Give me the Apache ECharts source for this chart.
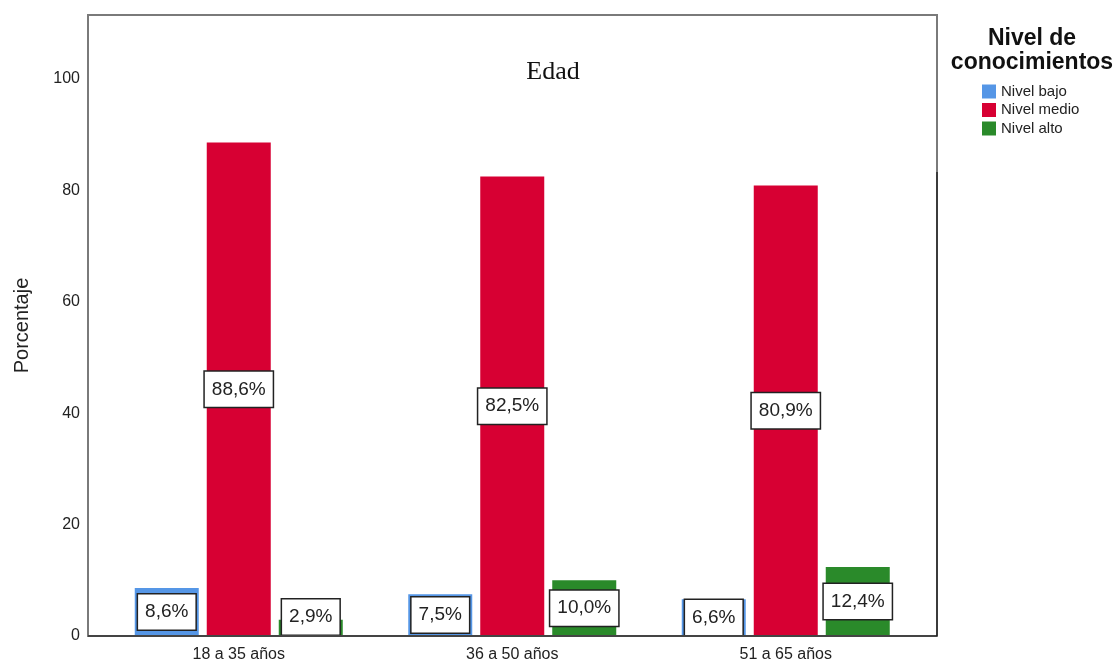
<!DOCTYPE html>
<html>
<head>
<meta charset="utf-8">
<script src="https://cdn.jsdelivr.net/npm/echarts@6/dist/echarts.min.js"></script>
<style>
html,body{margin:0;padding:0;background:#fff;overflow:hidden;}
#chart{width:1118px;height:659px;}
</style>
</head>
<body>
<div id="chart"></div>
<script>
const categories = ['18 a 35 años', '36 a 50 años', '51 a 65 años'];
const seriesNames = ['Nivel bajo', 'Nivel medio', 'Nivel alto'];
const nivelBajo = [8.6, 7.5, 6.6];
const nivelMedio = [88.6, 82.5, 80.9];
const nivelAlto = [2.9, 10.0, 12.4];
const colors = ['#5596e6', '#d70033', '#2a8a2a'];

const FONT = '"Liberation Sans", Arial, sans-serif';

const chart = echarts.init(document.getElementById('chart'), null, {renderer: 'canvas'});

function fmt(p) {
  return p.value.toFixed(1).replace('.', ',') + '%';
}
const labelStyle = {
  show: true,
  position: 'inside',
  formatter: fmt,
  backgroundColor: '#ffffff',
  borderColor: '#222222',
  borderWidth: 1.5,
  padding: [8, 7],
  fontSize: 19,
  fontFamily: FONT,
  color: '#222222'
};

function makeData(arr) {
  return arr.map(v => {
    const d = {value: v};
    if (v < 5) d.label = {offset: [0, -11]};
    return d;
  });
}

const allSeries = [nivelBajo, nivelMedio, nivelAlto].map((arr, i) => ({
  name: seriesNames[i],
  type: 'bar',
  barWidth: 64,
  barGap: '12.5%',
  data: makeData(arr),
  itemStyle: {color: colors[i]},
  label: labelStyle,
  emphasis: {disabled: true},
  animation: false
}));

const option = {
  animation: false,
  backgroundColor: '#ffffff',
  grid: {left: 102, right: 195.5, top: 15, bottom: 23, containLabel: false, outerBoundsMode: 'none'},
  legend: {
    orient: 'vertical',
    left: 982,
    top: 84,
    padding: 0,
    itemWidth: 14,
    itemHeight: 14,
    itemGap: 3.5,
    icon: 'rect',
    data: seriesNames,
    textStyle: {fontSize: 15, fontFamily: FONT, color: '#222222'},
    selectedMode: false
  },
  xAxis: {
    type: 'category',
    data: categories,
    axisLine: {show: false},
    axisTick: {show: false},
    axisLabel: {fontSize: 16, fontFamily: FONT, color: '#222222', margin: 11}
  },
  yAxis: {
    type: 'value',
    min: 0,
    max: 111.5,
    interval: 20,
    splitLine: {show: false},
    axisLine: {show: false},
    axisTick: {show: false},
    axisLabel: {fontSize: 16, fontFamily: FONT, color: '#222222', margin: 22, showMaxLabel: false},
    name: 'Porcentaje',
    nameLocation: 'middle',
    nameGap: 70,
    nameTextStyle: {fontSize: 20, fontFamily: FONT, color: '#222222'}
  },
  graphic: [
    {type: 'rect', z: 10, silent: true, shape: {x: 88, y: 15, width: 849, height: 621},
      style: {fill: 'none', stroke: '#7a7a7a', lineWidth: 2}},
    {type: 'line', z: 11, silent: true, shape: {x1: 88, y1: 636, x2: 937, y2: 636},
      style: {stroke: '#333333', lineWidth: 1.5}},
    {type: 'line', z: 11, silent: true, shape: {x1: 937, y1: 172, x2: 937, y2: 636},
      style: {stroke: '#111111', lineWidth: 1.2}},
    {type: 'text', z: 12, silent: true, style: {text: 'Edad', x: 553, y: 72.5, align: 'center', verticalAlign: 'middle',
      font: '26px "Liberation Serif", "Times New Roman", serif', fill: '#111111'}},
    {type: 'text', z: 12, silent: true, style: {text: 'Nivel de\nconocimientos', x: 1032, y: 51, align: 'center', verticalAlign: 'middle',
      font: 'bold 23px "Liberation Sans", Arial, sans-serif', lineHeight: 24, fill: '#111111'}}
  ],
  series: allSeries
};
chart.setOption(option);
</script>
</body>
</html>
